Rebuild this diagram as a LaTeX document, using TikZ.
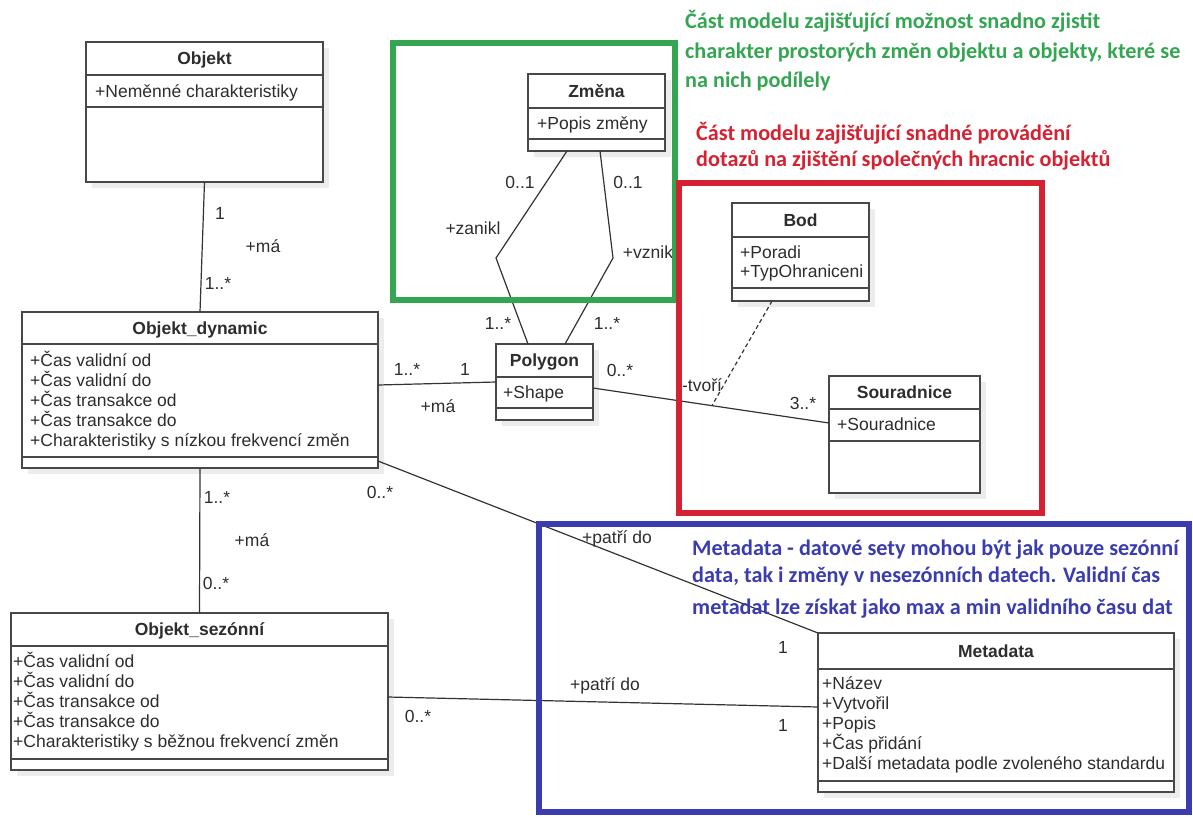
\documentclass[tikz,border=0pt]{standalone}
\usepackage{fontspec}
\setmainfont{Liberation Sans}
\newfontfamily\notefont{Carlito}
\usetikzlibrary{calc}

\definecolor{umlline}{RGB}{72,72,72}
\definecolor{umltext}{RGB}{45,45,45}
\definecolor{boxshade}{RGB}{236,236,236}
\definecolor{grnote}{RGB}{52,166,82}
\definecolor{rednote}{RGB}{212,34,50}
\definecolor{bluenote}{RGB}{58,60,176}

% one UML class: name, x, y, width, height, first rule, second rule, title
\newcommand{\umlclass}[8]{%
  \fill[boxshade] (#2+6,#3+6) rectangle (#2+#4+6,#3+#5+6);
  \node[classbox, minimum width=#4pt, minimum height=#5pt, anchor=north west] (#1) at (#2,#3) {};
  \draw[classrule] (#2,#3+#6) -- (#2+#4,#3+#6);
  \draw[classrule] (#2,#3+#7) -- (#2+#4,#3+#7);
  \node[classtitle] (#1-title) at (#2+#4/2,#3+#6/2+6) {#8};
}
% attribute lines: name, x, first baseline, line step, list
\newcommand{\umlattrs}[5]{%
  \foreach \a [count=\i] in {#5} {
    \node[attrtext] (#1-attr\i) at (#2,#3+#4*\i-#4) {\a};
  }
}

\begin{document}
\begin{tikzpicture}[x=1pt,y=-1pt,
  classbox/.style={draw=umlline, line width=1.6pt, fill=white, inner sep=0pt, outer sep=0pt},
  classrule/.style={draw=umlline, line width=1.6pt},
  classtitle/.style={anchor=base, inner sep=0pt, text=umltext, font=\fontsize{17.5}{20}\selectfont\bfseries},
  attrtext/.style={anchor=base west, inner sep=0pt, text=umltext, font=\fontsize{17.5}{20}\selectfont},
  mult/.style={anchor=base, inner sep=0pt, text=umltext, font=\fontsize{17.5}{20}\selectfont},
  assoc/.style={draw=black!80, line width=1.2pt},
  frame/.style={line width=6.5pt},
  note/.style={anchor=base west, inner sep=0pt, font=\fontsize{22.2}{26}\notefont\bfseries}
]
\useasboundingbox (0,0) rectangle (1193,817);

% ---- classes
\umlclass{objekt}{86}{42}{237}{140}{33}{65}{Objekt}
\umlattrs{objekt}{95}{97}{20}{+Neměnné charakteristiky}

\umlclass{dyn}{22}{312}{356}{156}{32}{145}{Objekt\_dynamic}
\umlattrs{dyn}{30}{366}{20}{+Čas validní od,+Čas validní do,+Čas transakce od,+Čas transakce do,+Charakteristiky s nízkou frekvencí změn}

\umlclass{sez}{11}{613}{377}{157}{33}{146}{Objekt\_sezónní}
\umlattrs{sez}{13}{667}{20.2}{+Čas validní od,+Čas validní do,+Čas transakce od,+Čas transakce do,+Charakteristiky s běžnou frekvencí změn}

\umlclass{zmena}{528}{74}{137}{77}{34}{65}{Změna}
\umlattrs{zmena}{537}{129}{20}{+Popis změny}

\umlclass{poly}{496}{344}{97}{76}{33}{64}{Polygon}
\umlattrs{poly}{503}{398}{20}{+Shape}

\umlclass{bod}{732}{203}{137}{98}{34}{85}{Bod}
\umlattrs{bod}{740}{258}{19}{+Poradi,+TypOhraniceni}

\umlclass{sour}{829}{376}{151}{117}{33}{65}{Souradnice}
\umlattrs{sour}{837}{430}{20}{+Souradnice}

\umlclass{meta}{818}{633}{356}{159}{36}{148}{Metadata}
\umlattrs{meta}{822}{689}{20}{+Název,+Vytvořil,+Popis,+Čas přidání,+Další metadata podle zvoleného standardu}

% ---- associations
\draw[assoc] (objekt.south) -- (dyn.north);
\draw[assoc] (dyn.south) -- (sez.north);
\draw[assoc] ($(dyn.north east)+(0,73)$) -- (poly.west);
\draw[assoc] ($(dyn.south east)+(0,-7)$) -- (meta.north west);
\draw[assoc] ($(sez.north east)+(0,84)$) -- ($(meta.north west)+(0,74)$);

\coordinate (bendL) at (496,258);
\coordinate (bendR) at (613,258);
\draw[assoc] ($(zmena.south west)+(39,0)$) -- (bendL) -- ($(poly.north west)+(32,0)$);
\draw[assoc] ($(zmena.south west)+(72,0)$) -- (bendR) -- ($(poly.north west)+(69,0)$);

\coordinate (polyR) at ($(poly.north east)+(0,44)$);
\coordinate (sourL) at ($(sour.north west)+(0,47)$);
\draw[assoc] (polyR) -- (sourL);
\draw[assoc, dashed, dash pattern=on 4pt off 3pt] ($(bod.south west)+(40,0)$) -- ($(polyR)!0.504!(sourL)$);

% ---- role names and multiplicities
\node[mult] (m1) at (220,219) {1};
\node[mult] (m2) at (263,252) {+má};
\node[mult] (m3) at (218,289) {1..*};

\node[mult] (m4) at (520,188) {0..1};
\node[mult] (m5) at (628,188) {0..1};
\node[mult] (m6) at (473,234) {+zanikl};
\node[mult] (m7) at (648,258) {+vznik};
\node[mult] (m8) at (498,329) {1..*};
\node[mult] (m9) at (607,329) {1..*};

\node[mult] (m10) at (407,375) {1..*};
\node[mult] (m11) at (465,375) {1};
\node[mult] (m12) at (438,412) {+má};
\node[mult] (m13) at (620,376) {0..*};

\node[mult] (m14) at (702,391) {-tvoří};
\node[mult] (m15) at (803,409) {3..*};

\node[mult] (m16) at (217,503) {1..*};
\node[mult] (m17) at (252,546) {+má};
\node[mult] (m18) at (216,589) {0..*};

\node[mult] (m19) at (380,498) {0..*};
\node[mult] (m20) at (617,543) {+patří do};
\node[mult] (m21) at (783,653) {1};
\node[mult] (m22) at (605,690) {+patří do};
\node[mult] (m23) at (418,722) {0..*};
\node[mult] (m24) at (783,731) {1};

% ---- highlighted regions
\draw[frame, draw=grnote] (393,43) rectangle (675,300);
\draw[frame, draw=rednote] (679,183) rectangle (1042,513);
\draw[frame, draw=bluenote] (539,524) rectangle (1189,812);

% ---- notes
\node[note, text=grnote] (g1) at (685,28) {Část modelu zajišťující možnost snadno zjistit};
\node[note, text=grnote] (g2) at (685,58) {charakter prostorých změn objektu a objekty, které se};
\node[note, text=grnote] (g3) at (685,87) {na nich podílely};
\node[note, text=rednote] (r1) at (696,140) {Část modelu zajišťující snadné provádění};
\node[note, text=rednote] (r2) at (696,166) {dotazů na zjištění společných hracnic objektů};
\node[note, text=bluenote] (b1) at (692,555) {Metadata - datové sety mohou být jak pouze sezónní};
\node[note, text=bluenote] (b2) at (692,582) {data, tak i změny v nesezónních datech. Validní čas};
\node[note, text=bluenote] (b3) at (692,614) {metadat lze získat jako max a min validního času dat};
\end{tikzpicture}
\end{document}
